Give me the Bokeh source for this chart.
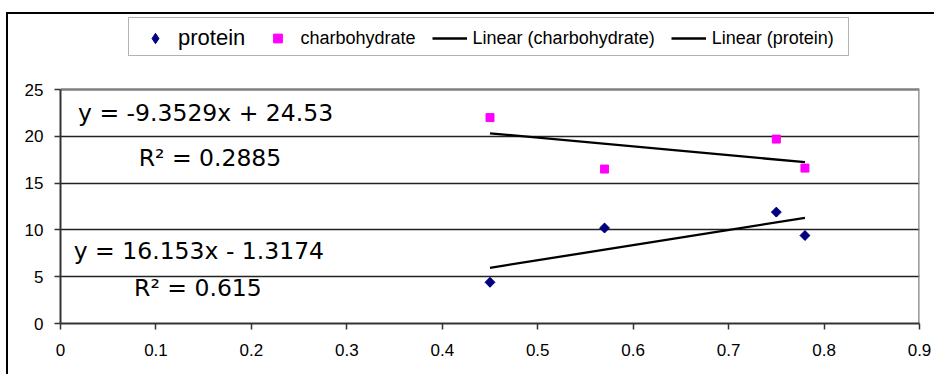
import numpy as np
from bokeh.plotting import figure
from bokeh.models import Range1d, FixedTicker, Legend, LegendItem, Label, BoxAnnotation
from bokeh.embed import file_html
from bokeh.resources import INLINE

# ---- data ----
x_ticks = [0, 0.1, 0.2, 0.3, 0.4, 0.5, 0.6, 0.7, 0.8, 0.9]
x_tick_labels = ["0", "0.1", "0.2", "0.3", "0.4", "0.5", "0.6", "0.7", "0.8", "0.9"]
y_ticks = [0, 5, 10, 15, 20, 25]
protein_x = [0.45, 0.57, 0.75, 0.78]
protein_y = [4.4, 10.2, 11.9, 9.4]
carb_x = [0.45, 0.57, 0.75, 0.78]
carb_y = [22.0, 16.5, 19.7, 16.6]
carb_slope, carb_intercept, carb_r2 = -9.3529, 24.53, 0.2885
protein_slope, protein_intercept, protein_r2 = 16.153, -1.3174, 0.615
series_names = ["protein", "charbohydrate", "Linear (charbohydrate)", "Linear (protein)"]

FONT = "Liberation Sans"
EQ_FONT = "DejaVu Sans"
NAVY = "#000080"
MAGENTA = "#FF00FF"

x_max = x_ticks[-1]
y_max = y_ticks[-1]
# frame runs from the top of the canvas down to the x axis so the legend is inside it
p = figure(width=934, height=374, output_backend="svg", toolbar_location=None,
           x_range=Range1d(0, x_max), y_range=Range1d(0, y_max * 323 / 234),
           min_border_left=60, min_border_right=15, min_border_top=0, min_border_bottom=51)
# outer chart border (top and left edges; the rest lies outside the window)
p.styles = {"box-shadow": "inset 6px 12px 0 0 white, inset 8px 14px 0 0 black"}
p.background_fill_alpha = 0
p.border_fill_alpha = 0
p.outline_line_color = None

for ax, ticks in ((p.xaxis, x_ticks), (p.yaxis, y_ticks)):
    ax.ticker = FixedTicker(ticks=ticks)
    ax.bounds = (ticks[0], ticks[-1])
    ax.minor_tick_line_color = None
    ax.major_tick_in = 0
    ax.major_tick_out = 6
    ax.axis_line_color = "#333333"
    ax.axis_line_width = 2
    ax.major_tick_line_color = "#333333"
    ax.major_tick_line_width = 1.5
    ax.major_label_text_font = FONT
    ax.major_label_text_font_size = "17px"
    ax.major_label_text_color = "black"
p.xaxis.major_label_standoff = 14
p.yaxis.major_label_standoff = 11
p.xaxis.major_label_overrides = {t: l for t, l in zip(x_ticks, x_tick_labels)}

p.xgrid.grid_line_color = None
p.ygrid.ticker = FixedTicker(ticks=y_ticks[1:-1])
p.ygrid.grid_line_color = "#222222"
p.ygrid.grid_line_width = 1.3

# plot-area border (grey, top and right)
p.line([x_ticks[0], x_max, x_max], [y_max, y_max, y_ticks[0]], line_color="#808080", line_width=2.5)

# trend lines (from the fitted coefficients)
cx = np.array([min(carb_x), max(carb_x)])
px_ = np.array([min(protein_x), max(protein_x)])
r_lc = p.line(cx, carb_slope * cx + carb_intercept, line_color="black", line_width=2.3)
r_lp = p.line(px_, protein_slope * px_ + protein_intercept, line_color="black", line_width=2.3)

# protein: a diamond glyph (used for the legend swatch) under a square turned 45 degrees
r_p_leg = p.scatter(protein_x, protein_y, marker="diamond", size=9,
                    fill_color=NAVY, line_color=NAVY)
p.scatter(protein_x, protein_y, marker="square", angle=np.pi / 4, size=7,
          fill_color=NAVY, line_color=NAVY)
r_c = p.scatter(carb_x, carb_y, marker="square", size=8,
                fill_color=MAGENTA, line_color=MAGENTA)

# legend box (frame-relative screen units)
legbox = BoxAnnotation(left=68, right=788, top=306, bottom=268,
                       left_units="screen", right_units="screen", top_units="screen", bottom_units="screen",
                       fill_color="white", fill_alpha=1, line_color="black", line_width=1)
p.add_layout(legbox)

legA = Legend(items=[LegendItem(label=series_names[0], renderers=[r_p_leg])],
              location=(82, 272), orientation="horizontal", padding=0, margin=0,
              border_line_alpha=0, background_fill_alpha=0,
              glyph_width=26, glyph_height=26, label_height=26, label_standoff=10,
              label_text_font=FONT, label_text_font_size="22px", label_text_baseline="middle",
              label_text_color="black")
legB = Legend(items=[LegendItem(label=series_names[1], renderers=[r_c]),
                     LegendItem(label=series_names[2], renderers=[r_lc]),
                     LegendItem(label=series_names[3], renderers=[r_lp])],
              location=(199.5, 274), orientation="horizontal", padding=0, margin=0, spacing=16,
              border_line_alpha=0, background_fill_alpha=0,
              glyph_width=35, glyph_height=22, label_height=22, label_standoff=6,
              label_text_font=FONT, label_text_font_size="18px", label_text_baseline="middle",
              label_text_color="black")
p.add_layout(legA)
p.add_layout(legB)

def fmt_eq(m, b):
    sign = "+" if b >= 0 else "-"
    return f"y = {m:g}x {sign} {abs(b):g}"

labels = [
    (fmt_eq(carb_slope, carb_intercept), 0.152, 22.54),
    (f"R\u00b2 = {carb_r2:g}", 0.1566, 17.63),
    (fmt_eq(protein_slope, protein_intercept), 0.145, 7.72),
    (f"R\u00b2 = {protein_r2:g}", 0.144, 3.74),
]
for txt, lx, ly in labels:
    p.add_layout(Label(x=lx, y=ly, text=txt, text_align="center", text_baseline="middle",
                       text_font=EQ_FONT, text_font_size="23.5px", text_color="black"))

open("out.html", "w").write(file_html(p, INLINE))
